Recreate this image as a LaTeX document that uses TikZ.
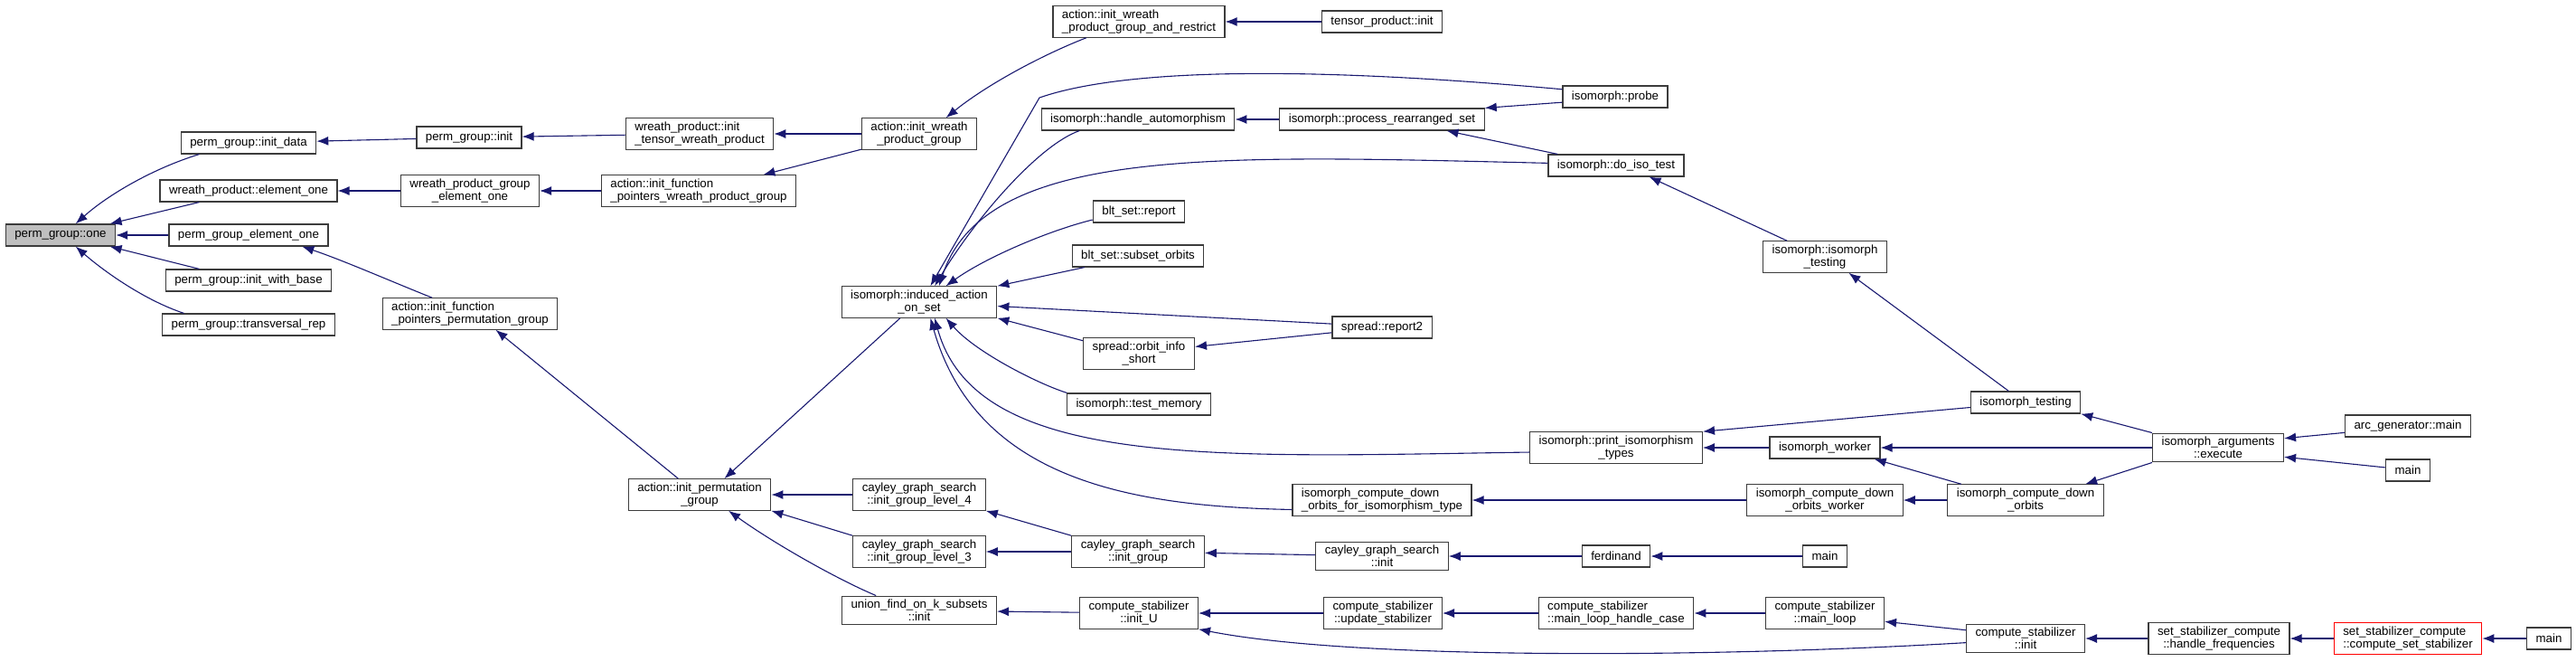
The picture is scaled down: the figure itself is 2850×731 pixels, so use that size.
\documentclass[tikz,border=0pt]{standalone}
\usepackage{fontspec}
\setmainfont{Liberation Sans}
\usepackage{tikz}
\usetikzlibrary{arrows.meta}
\definecolor{AzulLlamada}{RGB}{25,25,112}
\definecolor{GrisCaja}{RGB}{60,60,60}
\definecolor{GrisRaiz}{RGB}{191,191,191}
\definecolor{RojoMarco}{RGB}{255,0,0}

\begin{document}
\begin{tikzpicture}[x=1pt,y=-1pt,
  fn/.style={draw=GrisCaja,fill=white,line width=1.2pt,inner xsep=10pt,inner ysep=4pt,
    minimum height=24pt,align=center,font=\fontsize{13.3}{14}\selectfont},
  fnl/.style={fn,align=left},
  call/.style={draw=AzulLlamada,line width=1.1pt,-{Latex[length=13pt,width=10pt]}}]
  \useasboundingbox (0,0) rectangle (2850,731);
  \node[fn,fill=GrisRaiz] (one) at (67,260) {perm\_group::one};
  \node[fn] (initdata) at (275,158) {perm\_group::init\_data};
  \node[fn] (wpone) at (275,211) {wreath\_product::element\_one};
  \node[fn] (pgone) at (275,260) {perm\_group\_element\_one};
  \node[fn] (withbase) at (275,310) {perm\_group::init\_with\_base};
  \node[fn] (transrep) at (275,359) {perm\_group::transversal\_rep};
  \node[fn] (pginit) at (519,152) {perm\_group::init};
  \node[fn] (wpgone) at (520,211) {wreath\_product\_group\\\_element\_one};
  \node[fnl] (fpperm) at (520,347) {action::init\_function\\\_pointers\_permutation\_group};
  \node[fnl] (tensorwp) at (774,148) {wreath\_product::init\\\_tensor\_wreath\_product};
  \node[fnl] (fpwreath) at (773,211) {action::init\_function\\\_pointers\_wreath\_product\_group};
  \node[fn] (initperm) at (774,547) {action::init\_permutation\\\_group};
  \node[fn] (wreath) at (1017,148) {action::init\_wreath\\\_product\_group};
  \node[fn] (induced) at (1017,334) {isomorph::induced\_action\\\_on\_set};
  \node[fn] (lvlfour) at (1017,547) {cayley\_graph\_search\\::init\_group\_level\_4};
  \node[fn] (lvlthree) at (1017,610) {cayley\_graph\_search\\::init\_group\_level\_3};
  \node[fn] (ufinit) at (1017,675) {union\_find\_on\_k\_subsets\\::init};
  \node[fnl] (wrrestrict) at (1260,24) {action::init\_wreath\\\_product\_group\_and\_restrict};
  \node[fn] (handleaut) at (1259,132) {isomorph::handle\_automorphism};
  \node[fn] (bltrep) at (1260,234) {blt\_set::report};
  \node[fn] (bltsub) at (1259,283) {blt\_set::subset\_orbits};
  \node[fn] (orbinfo) at (1260,391) {spread::orbit\_info\\\_short};
  \node[fn] (testmem) at (1260,447) {isomorph::test\_memory};
  \node[fn] (initgroup) at (1259,610) {cayley\_graph\_search\\::init\_group};
  \node[fn] (initu) at (1260,678) {compute\_stabilizer\\::init\_U};
  \node[fn] (tpinit) at (1529,24) {tensor\_product::init};
  \node[fn] (rearr) at (1529,132) {isomorph::process\_rearranged\_set};
  \node[fn] (report) at (1529,362) {spread::report2};
  \node[fnl] (downtype) at (1529,553) {isomorph\_compute\_down\\\_orbits\_for\_isomorphism\_type};
  \node[fn] (cgsinit) at (1529,615) {cayley\_graph\_search\\::init};
  \node[fn] (updstab) at (1530,678) {compute\_stabilizer\\::update\_stabilizer};
  \node[fn] (probe) at (1787,107) {isomorph::probe};
  \node[fn] (doiso) at (1788,183) {isomorph::do\_iso\_test};
  \node[fn] (printiso) at (1788,495) {isomorph::print\_isomorphism\\\_types};
  \node[fn] (ferdinand) at (1788,615) {ferdinand};
  \node[fnl] (mlhandle) at (1788,678) {compute\_stabilizer\\::main\_loop\_handle\_case};
  \node[fn] (isotest) at (2019,284) {isomorph::isomorph\\\_testing};
  \node[fn] (worker) at (2019,495) {isomorph\_worker};
  \node[fn] (downworker) at (2019,553) {isomorph\_compute\_down\\\_orbits\_worker};
  \node[fn] (mainf) at (2019,615) {main};
  \node[fn] (mainloop) at (2019,678) {compute\_stabilizer\\::main\_loop};
  \node[fn] (isotesting) at (2241,445) {isomorph\_testing};
  \node[fn] (downorbits) at (2241,553) {isomorph\_compute\_down\\\_orbits};
  \node[fn] (csinit) at (2241,706) {compute\_stabilizer\\::init};
  \node[fn] (execute) at (2454,495) {isomorph\_arguments\\::execute};
  \node[fn] (handlefreq) at (2455,706) {set\_stabilizer\_compute\\::handle\_frequencies};
  \node[fn] (arcmain) at (2664,471) {arc\_generator::main};
  \node[fn] (mainx) at (2664,520) {main};
  \node[fnl,draw=RojoMarco] (setstab) at (2664,706) {set\_stabilizer\_compute\\::compute\_set\_stabilizer};
  \node[fn] (mainset) at (2820,706) {main};
  \draw[call] (initdata.193) .. controls (170,186) and (120,215) .. (one.37);
  \draw[call] (wpone.193) -- (one.13);
  \draw[call] (pgone) -- (one);
  \draw[call] (withbase.167) -- (one.-13);
  \draw[call] (transrep.170) .. controls (160,332) and (115,300) .. (one.-37);
  \draw[call] (pginit) -- (initdata);
  \draw[call] (tensorwp) -- (pginit);
  \draw[call] (wreath) -- (tensorwp);
  \draw[call] (wpgone) -- (wpone);
  \draw[call] (fpwreath) -- (wpgone);
  \draw[call] (wreath.195) -- (fpwreath.14);
  \draw[call] (fpperm.157) .. controls (430,310) and (380,288) .. (pgone.-12);
  \draw[call] (initperm.143) -- (fpperm.-32);
  \draw[call] (wrrestrict.197) .. controls (1150,62) and (1090,95) .. (wreath.31);
  \draw[call] (tpinit) -- (wrrestrict);
  \draw[call] (induced.220) -- (initperm.33);
  \draw[call] (lvlfour) -- (initperm);
  \draw[call] (lvlthree.north west) -- (initperm.south east);
  \draw[call] (ufinit.161) .. controls (925,640) and (855,600) .. (initperm.-29);
  \draw[call] (probe.172) .. controls (1500,78) and (1260,70) .. (1150,108) -- (induced.55);
  \draw[call] (handleaut.191) .. controls (1150,160) and (1080,240) .. (induced.46);
  \draw[call] (doiso.178) .. controls (1350,172) and (1090,160) .. (induced.39);
  \draw[call] (bltrep.190) .. controls (1160,255) and (1090,285) .. (induced.31);
  \draw[call] (bltsub.192) -- (induced.north east);
  \draw[call] (report.176) -- (induced.-3);
  \draw[call] (orbinfo.167) -- (induced.south east);
  \draw[call] (testmem.171) .. controls (1150,425) and (1080,390) .. (induced.-31);
  \draw[call] (printiso.183) .. controls (1350,505) and (1080,520) .. (induced.-46);
  \draw[call] (downtype.186) .. controls (1250,560) and (1080,530) .. (induced.-55);
  \draw[call] (rearr) -- (handleaut);
  \draw[call] (probe.186) -- (rearr.north east);
  \draw[call] (doiso.169) -- (rearr.-10);
  \draw[call] (isotest.157) -- (doiso.-19);
  \draw[call] (isotesting.146) -- (isotest.-34);
  \draw[call] (report.186) -- (orbinfo.7);
  \draw[call] (isotesting) -- (printiso.north east);
  \draw[call] (worker) -- (printiso);
  \draw[call] (downworker) -- (downtype);
  \draw[call] (downorbits) -- (downworker);
  \draw[call] (downorbits.166) -- (worker.-13);
  \draw[call] (execute) -- (worker);
  \draw[call] (execute.north west) -- (isotesting.south east);
  \draw[call] (execute.south west) -- (downorbits.15);
  \draw[call] (arcmain.186) -- (execute.8);
  \draw[call] (mainx.173) -- (execute.-8);
  \draw[call] (initgroup.north west) -- (lvlfour.south east);
  \draw[call] (initgroup) -- (lvlthree);
  \draw[call] (cgsinit) -- (initgroup);
  \draw[call] (ferdinand) -- (cgsinit);
  \draw[call] (mainf) -- (ferdinand);
  \draw[call] (initu) -- (ufinit);
  \draw[call] (updstab) -- (initu);
  \draw[call] (csinit.184) .. controls (1900,727) and (1500,730) .. (initu.south east);
  \draw[call] (mlhandle) -- (updstab);
  \draw[call] (mainloop) -- (mlhandle);
  \draw[call] (csinit.172) -- (mainloop.-8);
  \draw[call] (handlefreq) -- (csinit);
  \draw[call] (setstab) -- (handlefreq);
  \draw[call] (mainset) -- (setstab);
\end{tikzpicture}
\end{document}
